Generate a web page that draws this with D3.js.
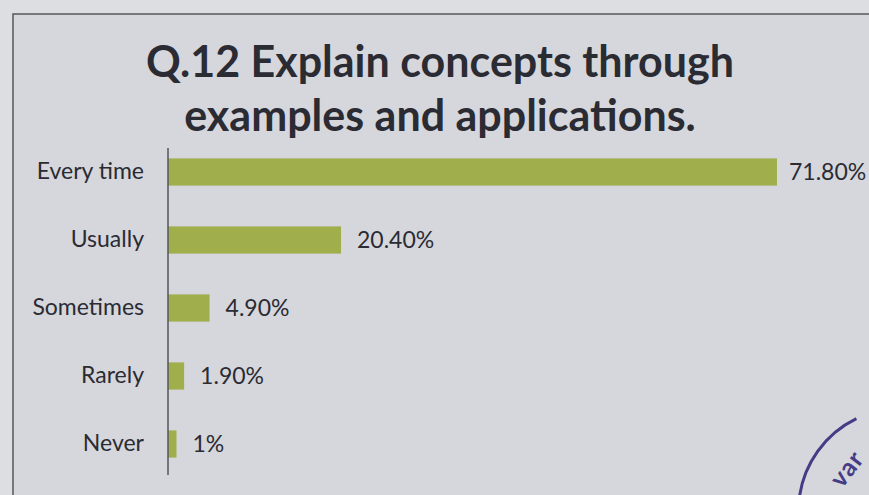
<!DOCTYPE html>
<meta charset="utf-8">
<style>
body { margin: 0; background: #dcdee2; }
text { font-family: Lato, "Open Sans", sans-serif; fill: #2b2b33; }
.title { font-weight: bold; font-size: 43px; }
.cat, .val { font-size: 23px; }
.bar { fill: #a0af4c; }
</style>
<body>
<script src="https://cdn.jsdelivr.net/npm/d3@7"></script>
<script>
// data
var categories = ["Every time", "Usually", "Sometimes", "Rarely", "Never"];
var values = [71.8, 20.4, 4.9, 1.9, 1];
var valueLabels = ["71.80%", "20.40%", "4.90%", "1.90%", "1%"];
var titleLines = ["Q.12 Explain concepts through", "examples and applications."];

var W = 869, H = 495;
var margin = {top: 138, left: 168};

var svg = d3.select("body").append("svg")
    .attr("width", W)
    .attr("height", H);

// paper / frame
svg.append("rect").attr("x", 0).attr("y", 0).attr("width", W).attr("height", H).attr("fill", "#dcdee2");
svg.append("rect").attr("x", 13).attr("y", 14).attr("width", W).attr("height", H)
    .attr("fill", "#d5d7dc").attr("stroke", "#55565c").attr("stroke-width", 1.5);

// title
svg.selectAll(".title").data(titleLines).enter().append("text")
    .attr("class", "title")
    .attr("x", 440)
    .attr("y", function(d, i) { return 77 + i * 54; })
    .attr("text-anchor", "middle")
    .text(function(d) { return d; });

var x = d3.scaleLinear().domain([0, 71.8]).range([0, 609]);
var y = d3.scaleBand().domain(categories).range([margin.top, margin.top + 5 * 68]).paddingInner(0.6).paddingOuter(0.3);

var g = svg.append("g").attr("transform", "translate(" + margin.left + ",0)");

g.selectAll(".bar").data(values).enter().append("rect")
    .attr("class", "bar")
    .attr("x", 0)
    .attr("y", function(d, i) { return y(categories[i]); })
    .attr("width", function(d) { return x(d); })
    .attr("height", y.bandwidth());

g.selectAll(".val").data(values).enter().append("text")
    .attr("class", "val")
    .attr("x", function(d, i) { return x(d) + (i == 0 ? 12 : 16); })
    .attr("y", function(d, i) { return y(categories[i]) + y.bandwidth() / 2; })
    .attr("dy", "0.35em")
    .text(function(d, i) { return valueLabels[i]; });

// category axis
var axis = g.append("g").call(d3.axisLeft(y).tickSize(0).tickPadding(24));
axis.select(".domain").attr("stroke", "#55565c").attr("stroke-width", 1.5)
    .attr("d", "M0,148V475");
axis.selectAll(".tick text").attr("class", "cat").style("font-family", null).style("font-size", null);

// stamp in the corner
var stamp = svg.append("g").attr("transform", "translate(901,511)");
stamp.append("path")
    .attr("d", d3.arc()({innerRadius: 101, outerRadius: 104, startAngle: -1.45, endAngle: -0.45}))
    .attr("fill", "#463c86");
stamp.append("text")
    .attr("transform", "rotate(-52) translate(0,-60)")
    .attr("text-anchor", "middle")
    .style("fill", "#463c86")
    .style("font-weight", "bold")
    .style("font-size", "25px")
    .style("letter-spacing", "1px")
    .text("var");
</script>
</body>
